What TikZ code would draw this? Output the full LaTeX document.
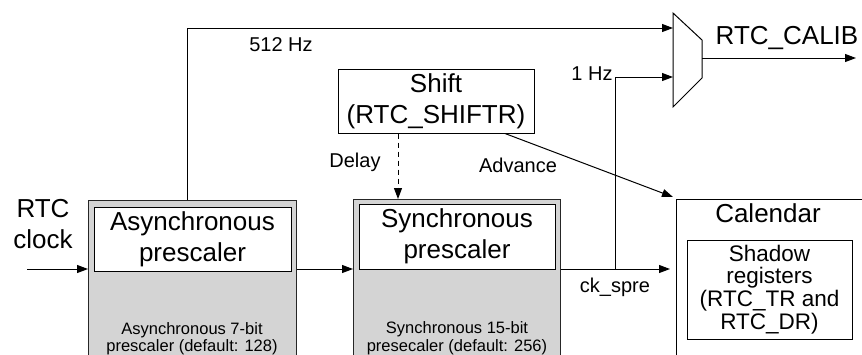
\documentclass[tikz,border=0pt]{standalone}
\usepackage{fontspec}
\setmainfont{Liberation Sans}
\usetikzlibrary{arrows.meta,calc}
\begin{document}
\begin{tikzpicture}[x=1pt,y=-1pt,
 big/.style={font=\fontsize{26}{31}\selectfont, align=center},
 mid/.style={font=\fontsize{20}{24}\selectfont},
 small/.style={font=\fontsize{16.5}{17.5}\selectfont, align=center},
 shadowtxt/.style={font=\fontsize{22.5}{22.7}\selectfont, align=center},
 outerbox/.style={draw=black!85, line width=1.2pt, fill=black!17, anchor=north west, inner sep=0pt},
 innerbox/.style={draw, line width=1pt, fill=white, inner sep=0pt},
 arr/.style={-{Triangle[length=11pt,width=8pt]}, line width=1pt},
]
\useasboundingbox (0,0) rectangle (862,354);
\clip (0,0) rectangle (862,354);
% blocks
\node[outerbox, minimum width=208pt, minimum height=170pt] (asyncO) at (88,200) {};
\node[outerbox, minimum width=207pt, minimum height=170pt] (syncO) at (353,199) {};
\node[innerbox, big, minimum width=197pt, minimum height=64pt] (asyncI) at (192.5,239) {Asynchronous\\prescaler};
\node[innerbox, big, minimum width=196pt, minimum height=65pt] (syncI) at (457,236.5) {Synchronous\\prescaler};
\node[small] (asyncT) at (192,338.5) {Asynchronous 7-bit\\prescaler (default: 128)};
\node[small] (syncT) at (457,338) {Synchronous 15-bit\\presecaler (default: 256)};
\node[innerbox, big, minimum width=196pt, minimum height=64pt] (shift) at (436,101) {Shift\\(RTC\_SHIFTR)};
\node[draw, line width=1pt, fill=white, anchor=north west, inner sep=0pt, minimum width=250pt, minimum height=200pt] (cal) at (676,199) {};
\node[big] (lcal) at (768,213) {Calendar};
\node[innerbox, shadowtxt, minimum width=165pt, minimum height=99pt] (shadow) at (769.5,289.5) {Shadow\\registers\\(RTC\_TR and\\RTC\_DR)};
% mux
\draw[line width=1pt, fill=white] (673,13) -- (702,40) -- (702,78) -- (673,107) -- cycle;
\coordinate (in1) at (673,28);
\coordinate (in2) at (673,77);
\coordinate (out) at (702,58);
\coordinate (outend) at (856,58);
% connectors
\coordinate (clkin) at (27,269);
\coordinate (lineY) at (0,269);
\coordinate (tap) at (615,269);
\draw[arr] (clkin) -- (clkin -| asyncO.west);
\draw[arr] (asyncO.east |- lineY) -- (syncO.west |- lineY);
\draw[arr, shorten >=6pt] (syncO.east |- lineY) -- (cal.west |- lineY);
\draw[arr] (tap) |- (in2);
\draw[arr] ([xshift=-5pt]asyncO.north) |- (in1);
\draw[arr] (out) -- (outend);
\draw[arr, dash pattern=on 5pt off 4pt] ([xshift=-38pt]shift.south) -- ([xshift=-38pt]shift.south |- syncO.north);
\draw[arr] ([xshift=69pt]shift.south) -- ([shift={(-3,-2)}]cal.north west);
% labels
\node[mid] (l512) at (281,45) {512 Hz};
\node[mid] (l1hz) at (592,74) {1 Hz};
\node[mid] (ldelay) at (355,162) {Delay};
\node[mid] (ladv) at (518,165) {Advance};
\node[mid] (lck) at (615,287) {ck\_spre};
\node[big] (lcalib) at (787,38) {RTC\_CALIB};
\node[big] (lclk) at (43,224) {RTC\\clock};
\end{tikzpicture}
\end{document}
